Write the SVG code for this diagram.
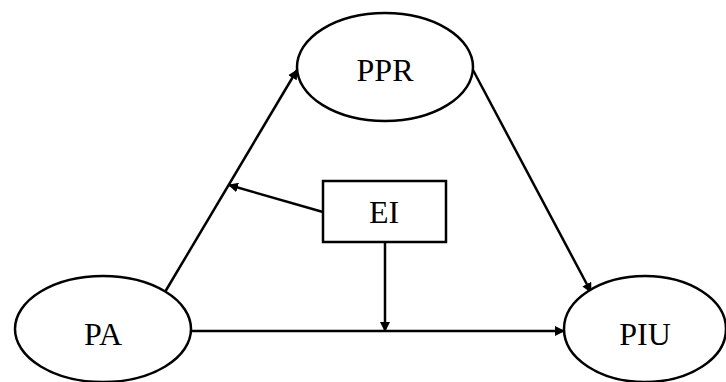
<svg xmlns="http://www.w3.org/2000/svg" width="726" height="382" viewBox="0 0 726 382">
<defs>
<style>
.n{fill:#fff;stroke:#000;stroke-width:2.5}
.t{font-family:"Liberation Serif","Times New Roman",serif;font-size:32px;fill:#000;text-anchor:middle}
.c{stroke:#000;stroke-width:2.5;fill:none;marker-end:url(#ah)}
</style>
<marker id="ah" viewBox="0 0 10 10" refX="9" refY="5" markerWidth="4" markerHeight="4" orient="auto" markerUnits="strokeWidth">
<path d="M0,0 L10,5 L0,10 z" fill="#000"/>
</marker>
</defs>
<rect width="726" height="382" fill="#fff"/>
<g id="connectors">
<line class="c" x1="165" y1="292" x2="297" y2="70"/>
<line class="c" x1="473" y1="70" x2="591" y2="292"/>
<line class="c" x1="191" y1="331" x2="564" y2="331"/>
<line class="c" x1="323" y1="212" x2="229" y2="185"/>
<line class="c" x1="385" y1="242" x2="385" y2="331"/>
</g>
<g id="PPR">
<ellipse class="n" cx="385" cy="67" rx="88" ry="54"/>
<text class="t" x="385" y="81">PPR</text>
</g>
<g id="PA">
<ellipse class="n" cx="103" cy="329" rx="88" ry="53"/>
<text class="t" x="103" y="345">PA</text>
</g>
<g id="PIU">
<ellipse class="n" cx="645" cy="329" rx="81" ry="53"/>
<text class="t" x="645" y="345">PIU</text>
</g>
<g id="EI">
<rect class="n" x="323" y="181" width="123" height="61"/>
<text class="t" x="384" y="223">EI</text>
</g>
</svg>
